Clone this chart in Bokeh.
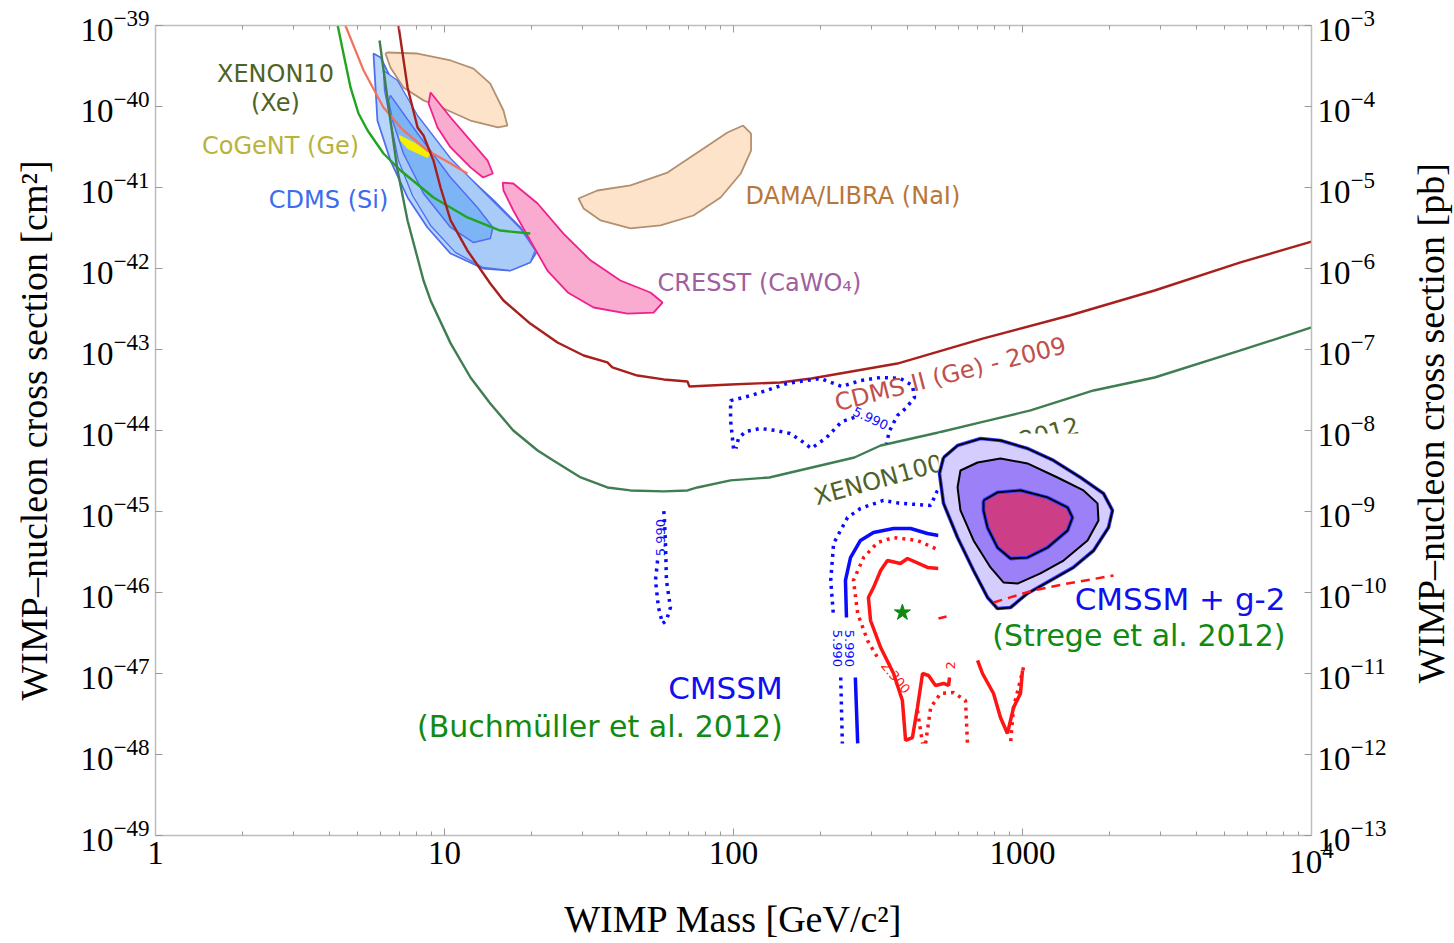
from bokeh.plotting import figure
from bokeh.layouts import row
from bokeh.models import Range1d, LogAxis, FixedTicker, LogTickFormatter, LogScale, PrintfTickFormatter
from bokeh.core.properties import value
from bokeh.embed import file_html
from bokeh.resources import INLINE

# ---------------- data (mass in GeV, cross section in cm^2) ----------------
x_major = [1, 10, 100, 1000, 10000]
y_major = [1e-39, 1e-40, 1e-41, 1e-42, 1e-43, 1e-44, 1e-45, 1e-46, 1e-47, 1e-48, 1e-49]
pb_major = [1e-3, 1e-4, 1e-5, 1e-6, 1e-7, 1e-8, 1e-9, 1e-10, 1e-11, 1e-12, 1e-13]

cdms2_mass = [6.93, 7.45, 8.07, 8.46, 9.16, 9.69, 10.5, 12.0, 14.4, 16.0, 19.8, 24.6, 30.3, 36.6, 38.1,
              46.5, 57.3, 69.3, 70.4, 97.7, 145, 186, 369, 733, 1455, 2864, 5680, 10000]
cdms2_sigma = [1.0e-39, 1.72e-40, 5.51e-41, 4.39e-41, 2.15e-41, 1.0e-41, 3.92e-42, 1.67e-42, 6.53e-43,
               4.03e-43, 2.09e-43, 1.22e-43, 8.43e-44, 6.92e-44, 6.0e-44, 4.77e-44, 4.27e-44, 4.03e-44,
               3.49e-44, 3.70e-44, 3.92e-44, 4.39e-44, 6.71e-44, 1.37e-43, 2.63e-43, 5.35e-43, 1.19e-42, 2.15e-42]

xenon100_mass = [5.96, 6.50, 6.88, 7.45, 8.46, 8.95, 10.5, 12.3, 14.4, 17.3, 21.0, 23.8, 29.6, 36.6, 44.0,
                 57.3, 69.3, 75.0, 97.7, 133, 262, 323, 512, 716, 1066, 1762, 2864, 5680, 10000]
xenon100_sigma = [6.53e-40, 6.71e-41, 1.62e-41, 3.92e-42, 7.11e-43, 4.03e-43, 1.19e-43, 4.51e-44, 2.15e-44,
                  1.0e-44, 5.66e-45, 4.27e-45, 2.63e-45, 1.98e-45, 1.82e-45, 1.77e-45, 1.82e-45, 1.98e-45,
                  2.42e-45, 2.63e-45, 4.64e-45, 6.53e-45, 9.44e-45, 1.26e-44, 1.77e-44, 3.12e-44, 4.51e-44,
                  9.73e-44, 1.87e-43]

xenon10_mass = [4.27, 4.47, 4.73, 5.04, 5.42, 6.15, 7.05, 9.16, 12.0, 15.6, 19.8]
xenon10_sigma = [1.0e-39, 4.51e-40, 1.72e-40, 8.2e-41, 5.06e-41, 2.63e-41, 1.62e-41, 7.53e-42, 4.27e-42,
                 2.94e-42, 2.70e-42]

cdms_lt_mass = [4.54, 5.25, 6.15, 7.21, 8.73, 10.5, 12.0]
cdms_lt_sigma = [1.0e-39, 2.78e-40, 9.72e-41, 5.06e-41, 2.86e-41, 1.98e-41, 1.49e-41]

cogent_mass = [6.98, 7.81, 8.95, 8.73, 7.45, 7.05]
cogent_sigma = [4.39e-41, 3.6e-41, 2.63e-41, 2.34e-41, 3.03e-41, 3.80e-41]

cdms_si_outer_mass = [5.68, 5.86, 6.50, 7.45, 8.73, 10.5, 13.6, 16.9, 19.8, 21.0, 18.3, 14.8, 10.5, 8.07, 6.50, 6.01]
cdms_si_outer_sigma = [4.51e-40, 6.71e-41, 2.15e-41, 7.53e-42, 3.21e-42, 1.53e-42, 1.0e-42, 9.44e-43, 1.19e-42,
                       1.67e-42, 3.21e-42, 6.92e-42, 2.15e-41, 7.31e-41, 2.28e-40, 4.03e-40]
cdms_si_mid_mass = [6.15, 6.88, 8.07, 10.5, 14.4, 18.3, 20.6, 19.8, 16.9, 13.6, 10.9, 8.95, 7.75, 6.93, 6.50, 6.20]
cdms_si_mid_sigma = [2.78e-40, 2.09e-40, 7.74e-41, 2.28e-41, 7.31e-42, 3.12e-42, 1.67e-42, 1.19e-42, 9.44e-43,
                     1.03e-42, 1.58e-42, 3.40e-42, 7.96e-42, 2.15e-41, 6.71e-41, 1.58e-40]
cdms_si_inner_mass = [6.50, 8.07, 10.5, 13.0, 14.7, 14.4, 12.6, 10.5, 8.46, 7.21, 6.61, 6.40]
cdms_si_inner_sigma = [1.37e-40, 4.64e-41, 1.33e-41, 5.66e-42, 3.21e-42, 2.34e-42, 2.09e-42, 3.21e-42, 8.43e-42,
                       2.63e-41, 6.71e-41, 1.19e-40]

dama_upper_mass = [6.35, 8.07, 10.5, 12.6, 14.4, 16.0, 16.5, 15.3, 12.3, 9.93, 8.46, 7.21, 6.50, 6.25]
dama_upper_sigma = [4.64e-40, 4.51e-40, 3.70e-40, 2.94e-40, 1.92e-40, 8.93e-41, 5.82e-41, 5.51e-41, 6.71e-41,
                    9.44e-41, 1.19e-40, 1.72e-40, 3.03e-40, 4.51e-40]
dama_lower_mass = [29.1, 33.8, 44.0, 59.1, 76.9, 95.3, 108, 115, 115, 106, 90.2, 72.7, 55.9, 44.0, 34.7, 30.3]
dama_lower_sigma = [7.31e-42, 9.18e-42, 1.06e-41, 1.53e-41, 2.86e-41, 4.77e-41, 5.82e-41, 4.64e-41, 2.86e-41,
                    1.49e-41, 7.53e-42, 4.51e-42, 3.40e-42, 3.12e-42, 3.92e-42, 5.51e-42]

cresst_upper_mass = [8.95, 10.5, 12.3, 14.1, 14.7, 13.6, 12.3, 10.5, 9.46, 8.81]
cresst_upper_sigma = [1.49e-40, 7.31e-41, 3.80e-41, 2.15e-41, 1.49e-41, 1.33e-41, 1.77e-41, 3.12e-41, 5.51e-41, 1.09e-40]
cresst_lower_mass = [15.9, 17.3, 21.0, 25.8, 32.0, 40.6, 51.6, 56.8, 52.9, 43.0, 32.8, 26.7, 22.7, 19.8, 17.3, 16.0]
cresst_lower_sigma = [1.15e-41, 1.12e-41, 6.34e-42, 2.70e-42, 1.26e-42, 7.11e-43, 5.06e-43, 3.80e-43, 2.86e-43,
                      2.78e-43, 3.30e-43, 5.06e-43, 9.44e-43, 2.22e-42, 5.2e-42, 9.18e-42]

# CMSSM (Buchmueller et al. 2012) contours
bu_blue_dot_mass = [
    [100, 97.7, 97.7, 115, 153, 200, 237, 275, 323, 378, 416, 423, 394, 369, 347, 338],
    [262, 237, 210, 186, 171, 157, 140, 124, 110, 104, 102],
    [54.6, 53.7, 55.0, 56.8, 58.6, 60.5, 58.6, 58.2, 57.7, 57.3],
    [508, 481, 378, 330, 275, 248, 222, 217, 222],
    [235, 238],
]
bu_blue_dot_sigma = [
    [6.0e-45, 1.33e-44, 2.34e-44, 2.70e-44, 3.80e-44, 4.39e-44, 3.49e-44, 4.14e-44, 4.51e-44, 4.39e-44,
     3.60e-44, 2.55e-44, 1.87e-44, 1.53e-44, 1.0e-44, 6.92e-45],
    [1.45e-44, 1.29e-44, 8.2e-45, 6.0e-45, 7.53e-45, 9.18e-45, 1.0e-44, 1.06e-44, 9.72e-45, 7.96e-45, 6.0e-45],
    [2.48e-46, 1.41e-46, 6.53e-47, 4.14e-47, 4.51e-47, 6.53e-47, 1.41e-46, 3.80e-46, 7.74e-46, 1.09e-45],
    [1.82e-45, 1.19e-45, 1.26e-45, 1.37e-45, 1.09e-45, 8.43e-46, 4.03e-46, 1.41e-46, 4.91e-47],
    [8.93e-48, 1.37e-48],
]
bu_blue_solid_mass = [[512, 469, 410, 358, 305, 275, 254, 244, 246], [264, 269]]
bu_blue_solid_sigma = [[5.06e-46, 5.35e-46, 6.17e-46, 6.17e-46, 5.51e-46, 4.39e-46, 2.70e-46, 1.41e-46, 4.91e-47],
                       [8.93e-48, 1.37e-48]]
bu_red_dot_mass = [[500, 433, 358, 315, 282, 260, 269, 291, 315], [433, 451],
                   [462, 481, 520, 577, 635, 645], [1008, 931, 909]]
bu_red_dot_sigma = [[3.49e-46, 4.39e-46, 4.77e-46, 4.14e-46, 2.70e-46, 1.41e-46, 5.51e-47, 2.55e-47, 1.58e-47],
                    [3.49e-48, 1.37e-48],
                    [1.37e-48, 3.80e-48, 5.66e-48, 5.82e-48, 4.64e-48, 1.37e-48],
                    [1.19e-47, 3.80e-48, 1.37e-48]]
bu_red_solid_mass = [[512, 469, 400, 378, 341, 323, 305, 293, 298, 323, 358, 384, 394, 416, 433, 451, 473, 500,
                      533, 555, 559],
                     [699, 727, 794, 839, 887, 931, 984, 1000]]
bu_red_solid_sigma = [[1.98e-46, 2.04e-46, 2.63e-46, 2.28e-46, 2.48e-46, 1.87e-46, 1.15e-46, 8.67e-47, 4.51e-47,
                       2.09e-47, 1.0e-47, 4.64e-48, 1.49e-48, 1.62e-48, 3.80e-48, 1.0e-47, 9.44e-48, 7.11e-48,
                       7.53e-48, 7.11e-48, 8.93e-48],
                      [1.45e-47, 1.0e-47, 5.66e-48, 2.86e-48, 1.82e-48, 3.80e-48, 5.66e-48, 1.09e-47]]
bu_best_mass = [384]
bu_best_sigma = [5.66e-47]
contour_label_mass = [298, 55.9, 229, 252]
contour_label_sigma = [1.41e-44, 4.77e-46, 2.04e-47, 2.04e-47]
contour_label_angle = [-25, 90, -90, -90]
red_label_mass = [364, 563]
red_label_sigma = [8.93e-48, 1.26e-47]
red_label_text = ["2.300", "2"]
red_label_angle = [-50, 90]

# CMSSM + g-2 (Strege et al. 2012) contours
st_panel_mass = [512, 8450]
st_panel_sigma = [1.67e-47, 9.18e-45]
st_outer_mass = [533, 596, 716, 839, 1040, 1280, 1588, 1906, 2048, 1984, 1762, 1500, 1250, 1040, 909, 819, 757,
                 677, 596, 533, 516]
st_outer_sigma = [4.64e-45, 6.53e-45, 7.96e-45, 7.53e-45, 6.0e-45, 4.27e-45, 2.63e-45, 1.67e-45, 1.03e-45,
                  6.34e-46, 3.30e-46, 2.04e-46, 1.41e-46, 9.73e-47, 6.53e-47, 6.34e-47, 8.67e-47, 1.87e-46,
                  4.77e-46, 1.26e-45, 2.94e-45]
st_mid_mass = [610, 699, 839, 1040, 1322, 1626, 1818, 1832, 1679, 1387, 1154, 961, 859, 775, 677, 610, 596]
st_mid_sigma = [3.21e-45, 4.03e-45, 4.51e-45, 3.92e-45, 2.63e-45, 1.82e-45, 1.26e-45, 7.74e-46, 4.39e-46,
                2.48e-46, 1.72e-46, 1.29e-46, 1.33e-46, 2.04e-46, 4.39e-46, 1.03e-45, 1.98e-45]
st_inner_mass = [733, 819, 984, 1221, 1432, 1489, 1432, 1221, 1040, 909, 819, 757, 733]
st_inner_sigma = [1.37e-45, 1.72e-45, 1.82e-45, 1.49e-45, 1.12e-45, 8.43e-46, 5.82e-46, 3.60e-46, 2.70e-46,
                  2.63e-46, 3.60e-46, 6.34e-46, 1.03e-45]
st_dash_mass = [[794, 1091, 1432, 2065], [512, 546]]
st_dash_sigma = [[7.53e-47, 1.06e-46, 1.29e-46, 1.62e-46], [4.77e-47, 5.06e-47]]

# ---------------- figure ----------------
p = figure(width=1404, height=943, x_axis_type="log", y_axis_type="log",
           x_range=Range1d(1, 1e4), y_range=Range1d(1e-49, 1e-39),
           output_backend="svg", toolbar_location=None,
           min_border_left=155, min_border_right=93, min_border_top=25, min_border_bottom=108)
p.grid.visible = False
p.outline_line_color = None
p.background_fill_color = "white"

p.extra_y_ranges = {"pb": Range1d(1e-13, 1e-3)}
p.extra_y_scales = {"pb": LogScale()}

x_minor = [m * 10 ** d for d in range(4) for m in range(2, 10)]


def style_axis(ax):
    ax.axis_line_color = "#bdbdbd"
    ax.axis_line_width = 1.5
    ax.major_tick_line_color = "#9a9a9a"
    ax.minor_tick_line_color = "#9a9a9a"
    ax.major_tick_in = 7
    ax.major_tick_out = 0
    ax.minor_tick_in = 4
    ax.minor_tick_out = 0
    ax.major_label_text_font = "Liberation Serif"
    ax.major_label_text_font_size = "33px"
    ax.major_label_text_color = "black"
    ax.major_label_standoff = 6
    ax.axis_label_text_font = "Liberation Serif"
    ax.axis_label_text_font_size = "38px"
    ax.axis_label_text_font_style = "normal"
    ax.axis_label_text_color = "black"


xa = p.xaxis[0]
xa.ticker = FixedTicker(ticks=x_major, minor_ticks=x_minor)
xa.formatter = LogTickFormatter(min_exponent=3)
xa.major_label_overrides = {1000: "1000"}
xa.axis_label = "WIMP Mass [GeV/c²]"
style_axis(xa)
xa.axis_label_standoff = 22

ya = p.yaxis[0]
ya.ticker = FixedTicker(ticks=y_major, minor_ticks=[])
ya.formatter = LogTickFormatter()
ya.axis_label = "WIMP–nucleon cross section [cm²]"
style_axis(ya)
ya.axis_label_standoff = 22

top = LogAxis(ticker=FixedTicker(ticks=x_major, minor_ticks=x_minor), formatter=PrintfTickFormatter(format=" "))
style_axis(top)
top.major_label_text_font_size = "1px"
top.major_label_standoff = 0
p.add_layout(top, "above")

right = LogAxis(y_range_name="pb", ticker=FixedTicker(ticks=pb_major, minor_ticks=[]),
                formatter=LogTickFormatter())
style_axis(right)
p.add_layout(right, "right")

# ---------------- experimental regions ----------------
p.patch(dama_upper_mass, dama_upper_sigma, fill_color="#fde3c9", line_color="#b39070", line_width=1.8)
p.patch(dama_lower_mass, dama_lower_sigma, fill_color="#fde3c9", line_color="#b39070", line_width=1.8)
p.patch(cdms_si_outer_mass, cdms_si_outer_sigma, fill_color="#b8d6fb", line_color="#4f6ff0", line_width=1.8)
p.patch(cdms_si_mid_mass, cdms_si_mid_sigma, fill_color="#a9cbf8", line_color="#4f6ff0", line_width=1.3)
p.patch(cdms_si_inner_mass, cdms_si_inner_sigma, fill_color="#7db4f5", line_color="#4f6ff0", line_width=1.5)
p.patch(cresst_upper_mass, cresst_upper_sigma, fill_color="#f9abd0", line_color="#f0208c", line_width=1.8)
p.patch(cresst_lower_mass, cresst_lower_sigma, fill_color="#f9abd0", line_color="#f0208c", line_width=1.8)
p.patch(cogent_mass, cogent_sigma, fill_color="#f5ef00", line_color="#f5ef00", line_width=1)

# ---------------- exclusion limits ----------------
p.line(cdms_lt_mass, cdms_lt_sigma, line_color="#f2725f", line_width=2.2)
p.line(xenon10_mass, xenon10_sigma, line_color="#1fa51f", line_width=2.4)
p.line(xenon100_mass, xenon100_sigma, line_color="#3f7d52", line_width=2.4)
p.line(cdms2_mass, cdms2_sigma, line_color="#a8201e", line_width=2.4)

# ---------------- CMSSM (Buchmueller) ----------------
p.multi_line(bu_blue_dot_mass, bu_blue_dot_sigma, line_color="#0a0aff", line_width=3.5, line_dash="3 5")
p.multi_line(bu_blue_solid_mass, bu_blue_solid_sigma, line_color="#0a0aff", line_width=3.5)
p.multi_line(bu_red_dot_mass, bu_red_dot_sigma, line_color="#ff1414", line_width=3.5, line_dash="3 5")
p.multi_line(bu_red_solid_mass, bu_red_solid_sigma, line_color="#ff1414", line_width=3.5)
p.scatter(bu_best_mass, bu_best_sigma, marker="star", size=17, fill_color="#118a11", line_color="#118a11")
p.text(contour_label_mass, contour_label_sigma, text=["5.990"] * 4, angle=contour_label_angle, angle_units="deg",
       text_font=value("DejaVu Sans"), text_font_size=value("13px"), text_color="#0a0aff",
       text_align="center", text_baseline="middle")
p.text(red_label_mass, red_label_sigma, text=red_label_text, angle=red_label_angle, angle_units="deg",
       text_font=value("DejaVu Sans"), text_font_size=value("13px"), text_color="#ff1414",
       text_align="center", text_baseline="middle")

# rotated limit labels
p.text([225], [2.15e-44], text=["CDMS II (Ge) - 2009"], angle=14.3, angle_units="deg",
       text_font=value("DejaVu Sans"), text_font_size=value("24px"), text_color="#c0504d",
       text_align="left", text_baseline="alphabetic")
p.text([191], [1.49e-45], text=["XENON100 (Xe) - 2012"], angle=15.3, angle_units="deg",
       text_font=value("DejaVu Sans"), text_font_size=value("24px"), text_color="#4f6228",
       text_align="left", text_baseline="alphabetic")

# ---------------- CMSSM + g-2 (Strege) panel ----------------
p.quad(left=[st_panel_mass[0]], right=[st_panel_mass[1]], bottom=[st_panel_sigma[0]], top=[st_panel_sigma[1]],
       fill_color="white", line_color=None)
p.patch(st_outer_mass, st_outer_sigma, fill_color="#d5cdfd", line_color=None)
p.line(st_outer_mass + st_outer_mass[:1], st_outer_sigma + st_outer_sigma[:1], line_color="#3a3aff", line_width=3.6)
p.line(st_outer_mass + st_outer_mass[:1], st_outer_sigma + st_outer_sigma[:1], line_color="black", line_width=1.8)
p.patch(st_mid_mass, st_mid_sigma, fill_color="#9b80f7", line_color="black", line_width=2)
p.patch(st_inner_mass, st_inner_sigma, fill_color="#cc3f86", line_color=None)
p.line(st_inner_mass + st_inner_mass[:1], st_inner_sigma + st_inner_sigma[:1], line_color="#3a3aff", line_width=3.8)
p.line(st_inner_mass + st_inner_mass[:1], st_inner_sigma + st_inner_sigma[:1], line_color="black", line_width=1.8)
p.multi_line(st_dash_mass, st_dash_sigma, line_color="#ff1414", line_width=2.5, line_dash="9 6")

# ---------------- labels ----------------
def label(x, y, txt, color, size="24px", align="center"):
    p.text([x], [y], text=[txt], text_font=value("DejaVu Sans"), text_font_size=value(size),
           text_color=color, text_align=align, text_baseline="middle")


label(2.60, 2.55e-40, "XENON10", "#4f6228")
label(2.60, 1.12e-40, "(Xe)", "#4f6228")
label(2.71, 3.30e-41, "CoGeNT (Ge)", "#b9b33d")
label(3.97, 6.92e-42, "CDMS (Si)", "#3c6cf0")
label(110, 7.96e-42, "DAMA/LIBRA (NaI)", "#b8773a", align="left")
label(54.6, 6.53e-43, "CRESST (CaWO₄)", "#a0609f", align="left")
label(8128, 8.2e-47, "CMSSM + g-2", "#1010ee", size="31px", align="right")
label(8128, 2.94e-47, "(Strege et al. 2012)", "#118a11", size="30px", align="right")
label(148, 6.53e-48, "CMSSM", "#1010ee", size="31px", align="right")
label(148, 2.22e-48, "(Buchmüller et al. 2012)", "#118a11", size="30px", align="right")

# ---------------- right-hand axis title (reads upwards, as in the original) ----------------
side = figure(width=50, height=943, x_range=Range1d(0, 1), y_range=Range1d(0, 1),
              output_backend="svg", toolbar_location=None,
              min_border_left=0, min_border_right=0, min_border_top=0, min_border_bottom=0)
side.xaxis.visible = False
side.yaxis.visible = False
side.grid.visible = False
side.outline_line_color = None
side.text([0.52], [0.509], text=["WIMP–nucleon cross section [pb]"], angle=90, angle_units="deg",
          text_font=value("Liberation Serif"), text_font_size=value("38px"), text_color="black",
          text_align="center", text_baseline="middle")

layout = row(p, side, spacing=0)
open("out.html", "w").write(file_html(layout, INLINE))
